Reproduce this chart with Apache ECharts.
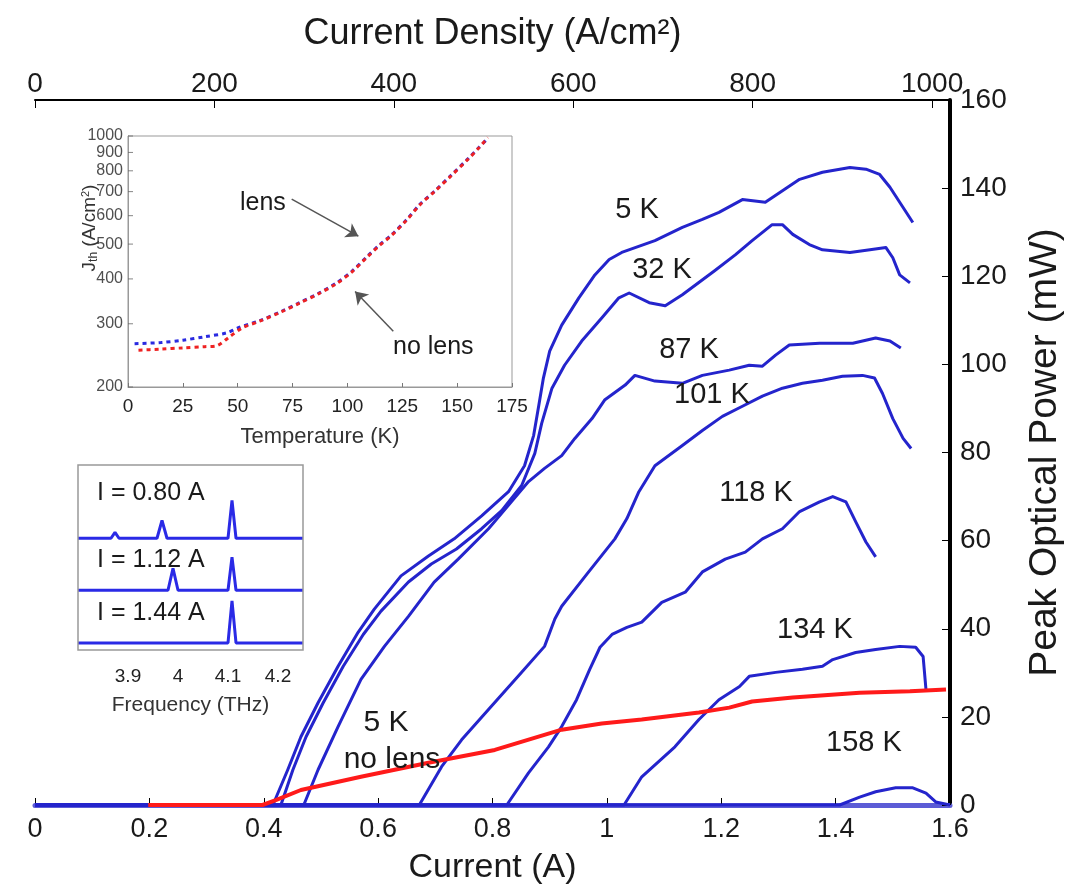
<!DOCTYPE html>
<html>
<head>
<meta charset="utf-8">
<script src="https://cdn.jsdelivr.net/npm/echarts@6/dist/echarts.min.js"></script>
<style>
html, body { margin: 0; padding: 0; background: #fff; }
#chart { width: 1067px; height: 893px; }
</style>
</head>
<body>
<div id="chart"></div>
<script>
// main plot: peak optical power (mW) against current (A)
var curveNames = ['5 K', '32 K', '87 K', '101 K', '118 K', '134 K', '158 K'];
var curve5K = [[0,0],[0.416,0],[0.442,8.0],[0.465,15.5],[0.495,23.2],[0.530,31.5],[0.565,39.2],[0.593,44.4],[0.640,52.0],[0.688,56.5],[0.733,60.4],[0.781,65.6],[0.828,71.1],[0.856,77.0],[0.872,83.9],[0.881,90.7],[0.889,96.9],[0.900,103.0],[0.921,108.9],[0.951,115.1],[0.979,120.3],[1.004,123.8],[1.026,125.4],[1.084,128.1],[1.132,131.1],[1.167,132.9],[1.196,134.5],[1.237,137.4],[1.277,136.8],[1.337,142.0],[1.377,143.6],[1.425,144.7],[1.453,144.3],[1.477,143.1],[1.495,140.2],[1.518,135.6],[1.535,132.2]];
var curve32K = [[0,0],[0.430,0],[0.451,8.0],[0.474,15.5],[0.504,23.2],[0.539,31.5],[0.574,38.7],[0.605,44.0],[0.653,50.6],[0.693,54.7],[0.737,58.1],[0.781,62.7],[0.816,66.8],[0.851,72.5],[0.874,79.8],[0.886,86.6],[0.904,94.6],[0.926,99.8],[0.956,105.3],[0.991,110.5],[1.021,115.1],[1.039,116.2],[1.074,114.0],[1.102,113.3],[1.132,115.8],[1.189,121.3],[1.225,124.9],[1.254,128.1],[1.289,131.7],[1.307,131.7],[1.325,129.5],[1.354,127.2],[1.377,126.0],[1.425,125.4],[1.460,126.0],[1.488,126.5],[1.500,124.2],[1.512,120.3],[1.530,118.5]];
var curve87K = [[0,0],[0.470,0],[0.495,8.0],[0.530,17.8],[0.570,28.5],[0.611,36.0],[0.653,42.8],[0.698,50.6],[0.740,55.8],[0.793,62.7],[0.833,68.8],[0.863,73.4],[0.891,76.4],[0.921,79.3],[0.944,83.2],[0.974,87.7],[0.996,91.9],[1.032,95.3],[1.049,97.5],[1.084,96.2],[1.132,95.7],[1.167,97.5],[1.214,98.7],[1.249,99.8],[1.272,99.6],[1.295,102.1],[1.319,104.4],[1.372,104.8],[1.430,104.8],[1.470,106.0],[1.495,105.3],[1.514,103.7]];
var curve101K = [[0,0],[0.672,0],[0.711,8.7],[0.746,14.8],[0.793,21.7],[0.851,30.1],[0.891,36.0],[0.909,42.2],[0.921,45.1],[0.965,52.4],[1.014,60.4],[1.035,65.0],[1.056,71.1],[1.084,77.0],[1.132,81.6],[1.167,85.0],[1.202,88.2],[1.237,90.5],[1.272,92.8],[1.307,94.6],[1.342,95.7],[1.377,96.4],[1.412,97.3],[1.447,97.5],[1.468,96.9],[1.482,93.4],[1.500,87.7],[1.518,83.2],[1.532,80.9]];
var curve118K = [[0,0],[0.825,0],[0.863,7.3],[0.898,13.2],[0.921,17.8],[0.947,23.9],[0.970,30.8],[0.988,35.8],[1.009,38.7],[1.035,40.3],[1.061,41.5],[1.096,46.0],[1.137,48.3],[1.167,52.9],[1.207,55.8],[1.242,57.4],[1.272,60.4],[1.307,62.7],[1.337,66.6],[1.372,68.8],[1.395,70.0],[1.418,68.8],[1.435,64.3],[1.453,59.7],[1.470,56.3]];
var curve134K = [[0,0],[1.030,0],[1.061,6.4],[1.119,13.2],[1.161,19.4],[1.196,23.9],[1.232,26.9],[1.249,29.2],[1.295,30.1],[1.342,30.8],[1.377,31.5],[1.395,33.0],[1.435,34.6],[1.470,35.3],[1.512,36.0],[1.540,35.8],[1.553,33.7],[1.558,26.2]];
var curve158K = [[0,0],[1.407,0],[1.442,1.8],[1.470,3.0],[1.505,3.9],[1.535,3.9],[1.558,2.7],[1.575,0.7],[1.600,0]];
var curveNoLens5K = [[0.198,0],[0.398,0],[0.421,1.1],[0.465,3.4],[0.570,6.4],[0.688,9.6],[0.804,12.5],[0.921,17.1],[0.991,18.5],[1.061,19.4],[1.161,21.0],[1.214,22.1],[1.254,23.5],[1.325,24.4],[1.442,25.5],[1.530,25.8],[1.593,26.2]];
var currentTicks = [0, 1.6, 0.2];
var densityTicks = [0, 1020, 200];
var powerTicks = [0, 160, 20];

// inset: threshold current density (A/cm^2) against temperature (K)
var jthLens = [[3,264],[15,266],[25,270],[35,276],[45,283],[50,292],[60,306],[70,325],[78,343],[87,365],[95,390],[102,420],[109,462],[115,500],[120,530],[127,585],[133,645],[140,705],[147,775],[155,865],[160,930],[164,985]];
var jthNoLens = [[3,253],[15,255],[25,257],[35,259],[40,260],[46,275],[52,292],[60,305],[70,324],[78,342],[87,364],[95,388],[102,418],[109,460],[115,498],[120,528],[127,583],[133,643],[140,703],[147,772],[155,862],[160,928],[164,990]];
var jthTicks = [200, 300, 400, 500, 600, 700, 800, 900, 1000];
var lensArrow = [[74.6,667],[105,526]];
var noLensArrow = [[120.9,286],[103.5,369]];

// inset: emission spectra (a.u.) against frequency (THz)
var spectrumLabels = ['I = 0.80 A', 'I = 1.12 A', 'I = 1.44 A'];
var spec080 = [[3.80,0],[3.866,0],[3.874,0.10],[3.882,0],[3.958,0],[3.968,0.30],[3.978,0],[4.100,0],[4.108,0.64],[4.116,0],[4.25,0]];
var spec112 = [[3.80,0],[3.980,0],[3.990,0.37],[4.000,0],[4.100,0],[4.108,0.56],[4.116,0],[4.25,0]];
var spec144 = [[3.80,0],[4.100,0],[4.108,0.71],[4.116,0],[4.25,0]];

var FONT = 'Liberation Sans';
var BLUE = '#2424cc';
var TXT = '#1a1a1a';

var chart = echarts.init(document.getElementById('chart'));

var mainCurves = [curve5K, curve32K, curve87K, curve101K, curve118K, curve134K, curve158K];
var series = [];
mainCurves.forEach(function (d, i) {
    series.push({
        name: curveNames[i], type: 'line', xAxisIndex: 0, yAxisIndex: 0,
        data: d, showSymbol: false, clip: false,
        lineStyle: { color: BLUE, width: 3, join: 'round' }, z: 3
    });
});
series.push({
    name: '5 K no lens', type: 'line', xAxisIndex: 0, yAxisIndex: 0,
    data: curveNoLens5K, showSymbol: false, clip: false,
    lineStyle: { color: '#ff1a1a', width: 4 }, z: 4
});

// temperature inset
series.push({
    name: 'lens', type: 'line', xAxisIndex: 2, yAxisIndex: 1,
    data: jthLens, showSymbol: false, smooth: 0.3,
    lineStyle: { color: '#2a2ae0', width: 3, type: [4, 4] },
    markLine: {
        silent: true, symbol: ['none', 'arrow'], symbolSize: 12,
        label: { show: false },
        lineStyle: { color: '#555', width: 1.5, type: 'solid' },
        data: [
            [{ coord: lensArrow[0] }, { coord: lensArrow[1] }],
            [{ coord: noLensArrow[0] }, { coord: noLensArrow[1] }]
        ]
    }
});
series.push({
    name: 'no lens', type: 'line', xAxisIndex: 2, yAxisIndex: 1,
    data: jthNoLens, showSymbol: false, smooth: 0.3,
    lineStyle: { color: '#ee2222', width: 3, type: [4, 4], dashOffset: 4 }
});
// log-axis tick labels of the temperature inset
series.push({
    type: 'scatter', xAxisIndex: 2, yAxisIndex: 1, silent: true,
    data: jthTicks.map(function (v) { return [0, v]; }),
    symbol: 'rect', symbolSize: [5, 1], symbolOffset: [2.5, 0],
    itemStyle: { color: '#666' },
    label: {
        show: true, position: 'left', distance: 5,
        formatter: function (p) { return p.value[1]; },
        fontFamily: FONT, fontSize: 16, color: '#222'
    }
});

// spectra panels
[spec080, spec112, spec144].forEach(function (d, i) {
    series.push({
        type: 'line', xAxisIndex: 3 + i, yAxisIndex: 2 + i,
        data: d, showSymbol: false, clip: false,
        lineStyle: { color: '#2a2ae6', width: 3 }
    });
});

var spectrumPanels = [
    { top: 465, height: 75, min: -0.03, max: 1.24 },
    { top: 540, height: 52, min: -0.03, max: 0.85 },
    { top: 592, height: 58, min: -0.12, max: 0.86 }
];

var grids = [
    { left: 35, top: 100, width: 915, height: 705, outerBoundsMode: 'none', containLabel: false },
    { left: 128, top: 136, width: 384, height: 251, show: true, backgroundColor: '#fff', borderColor: '#999', borderWidth: 1, outerBoundsMode: 'none' }
];
spectrumPanels.forEach(function (p) {
    grids.push({ left: 78, top: p.top, width: 225, height: p.height, show: true, backgroundColor: '#fff', borderWidth: 0, outerBoundsMode: 'none' });
});

var xAxes = [
    {
        type: 'value', gridIndex: 0, position: 'bottom',
        min: currentTicks[0], max: currentTicks[1], interval: currentTicks[2],
        name: 'Current (A)', nameLocation: 'middle', nameGap: 46,
        nameTextStyle: { fontFamily: FONT, fontSize: 34, color: TXT },
        axisLine: { onZero: false, lineStyle: { color: '#5c5cd6', width: 5 } },
        axisTick: { inside: true, length: 7, lineStyle: { color: '#000' } },
        axisLabel: { fontFamily: FONT, fontSize: 27, color: TXT, margin: 11 },
        splitLine: { show: false }
    },
    {
        type: 'value', gridIndex: 0, position: 'top',
        min: densityTicks[0], max: densityTicks[1], interval: densityTicks[2],
        name: 'Current Density (A/cm²)', nameLocation: 'middle', nameGap: 48,
        nameTextStyle: { fontFamily: FONT, fontSize: 36, color: TXT },
        axisLine: { onZero: false, lineStyle: { color: '#000', width: 2 } },
        axisTick: { inside: true, length: 8, lineStyle: { color: '#000' } },
        axisLabel: {
            fontFamily: FONT, fontSize: 28, color: TXT, margin: 2,
            formatter: function (v) { return v > 1000 ? '' : v; }
        },
        splitLine: { show: false }
    },
    {
        type: 'value', gridIndex: 1, min: 0, max: 175, interval: 25,
        name: 'Temperature (K)', nameLocation: 'middle', nameGap: 39,
        nameTextStyle: { fontFamily: FONT, fontSize: 22, color: '#333' },
        axisLine: { onZero: false, lineStyle: { color: '#999' } },
        axisTick: { inside: true, length: 4, lineStyle: { color: '#777' } },
        axisLabel: { fontFamily: FONT, fontSize: 19, color: '#222', margin: 10 },
        splitLine: { show: false }
    }
];
spectrumPanels.forEach(function (p, i) {
    var last = i === spectrumPanels.length - 1;
    xAxes.push({
        type: 'value', gridIndex: 2 + i, min: 3.8, max: 4.25, interval: 0.1,
        name: last ? 'Frequency (THz)' : '', nameLocation: 'middle', nameGap: 45,
        nameTextStyle: { fontFamily: FONT, fontSize: 21, color: '#333' },
        axisLine: { show: false, onZero: false },
        axisTick: { show: false },
        axisLabel: {
            show: last, fontFamily: FONT, fontSize: 19, color: '#222', margin: 17,
            formatter: function (v) { return (v < 3.85 || v > 4.22) ? '' : v; }
        },
        splitLine: { show: false }
    });
});

var yAxes = [
    {
        type: 'value', gridIndex: 0, position: 'right',
        min: powerTicks[0], max: powerTicks[1], interval: powerTicks[2],
        name: 'Peak Optical Power (mW)', nameLocation: 'middle', nameGap: 76, nameRotate: 90,
        nameTextStyle: { fontFamily: FONT, fontSize: 39, color: TXT },
        axisLine: { show: true, onZero: false, lineStyle: { color: '#000', width: 4 } },
        axisTick: { show: true, inside: true, length: 8, lineStyle: { color: '#000' } },
        axisLabel: { fontFamily: FONT, fontSize: 28, color: TXT, margin: 10 },
        splitLine: { show: false }
    },
    {
        type: 'log', gridIndex: 1, min: 200, max: 1000, logBase: 10,
        axisLine: { show: true, onZero: false, lineStyle: { color: '#999' } },
        axisTick: { show: false }, axisLabel: { show: false },
        splitLine: { show: false }
    }
];
spectrumPanels.forEach(function (p, i) {
    yAxes.push({
        type: 'value', gridIndex: 2 + i, min: p.min, max: p.max,
        axisLine: { show: false, onZero: false }, axisTick: { show: false },
        axisLabel: { show: false }, splitLine: { show: false }
    });
});

function label(text, x, y, size, align) {
    return {
        type: 'text', x: x, y: y, z: 10,
        style: {
            text: text, fontFamily: FONT, fontSize: size, fill: TXT,
            align: align || 'center', verticalAlign: 'middle'
        }
    };
}

var graphics = [
    label('5 K', 637, 210, 29),
    label('32 K', 662, 270, 29),
    label('87 K', 689, 350, 29),
    label('101 K', 712, 395, 29),
    label('118 K', 756, 493, 29),
    label('134 K', 815, 630, 29),
    label('158 K', 864, 743, 29),
    label('5 K', 386, 723, 30),
    label('no lens', 392, 760, 30),
    label('lens', 240, 203, 25, 'left'),
    label('no lens', 393, 347, 25, 'left'),
    {
        type: 'text', x: 90, y: 228, rotation: Math.PI / 2, z: 10,
        style: {
            text: '{a|J}{b|th}{a| (A/cm}{c|2}{a|)}',
            align: 'center', verticalAlign: 'middle',
            rich: {
                a: { fontFamily: FONT, fontSize: 19, fill: '#333' },
                b: { fontFamily: FONT, fontSize: 12, fill: '#333', verticalAlign: 'bottom' },
                c: { fontFamily: FONT, fontSize: 11, fill: '#333', verticalAlign: 'top' }
            }
        }
    },
    {
        type: 'rect', z: 10,
        shape: { x: 78, y: 465, width: 225, height: 185 },
        style: { fill: 'none', stroke: '#999', lineWidth: 1.5 }
    }
];
spectrumLabels.forEach(function (t, i) {
    graphics.push(label(t, 97, [493, 560, 613][i], 25, 'left'));
});

chart.setOption({
    animation: false,
    backgroundColor: '#fff',
    grid: grids,
    xAxis: xAxes,
    yAxis: yAxes,
    series: series,
    graphic: graphics
});
window.onresize = chart.resize;
</script>
</body>
</html>
